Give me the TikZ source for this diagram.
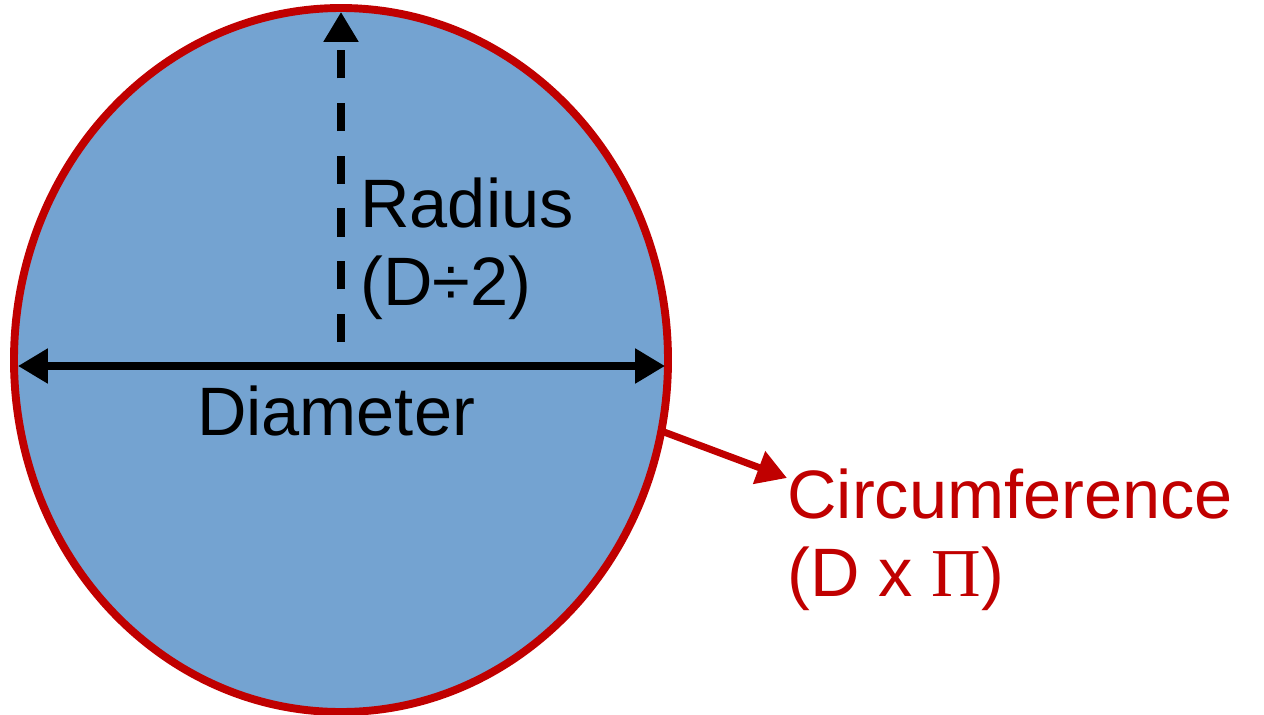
\documentclass[tikz,border=0pt]{standalone}
\usepackage{fontspec}
\setmainfont{Liberation Sans}
\newfontfamily\pifont{Liberation Serif}
\usetikzlibrary{arrows.meta}
\definecolor{discblue}{HTML}{74A3D1}
\definecolor{rimred}{HTML}{C00000}

\begin{document}
\begin{tikzpicture}[x=0.02cm, y=-0.02cm,
    bigtext/.style={font=\fontsize{39}{44}\selectfont, inner sep=0pt, align=left},
    measure/.style={line width=4pt, -{Triangle[length=17pt, width=19pt]}}]
  \useasboundingbox (0,0) rectangle (1264,714);

  % --- the disc ---
  \draw[fill=discblue, draw=rimred, line width=4.5pt] (341,360) ellipse[x radius=327, y radius=352];

  % --- reference points on the rim ---
  \coordinate (centre) at (341,342);
  \coordinate (top)    at (341,12);
  \coordinate (west)   at (18,366);
  \coordinate (east)   at (665,366);
  \coordinate (rim)    at (664,432);
  \coordinate (tip)    at (787,478);

  % --- radius and diameter ---
  \draw[measure, dash pattern=on 16pt off 14pt] (centre) -- (top);
  \draw[measure, {Triangle[length=17pt, width=19pt]}-{Triangle[length=17pt, width=19pt]}] (west) -- (east);

  % --- labels (anchored on the last baseline) ---
  \node[bigtext, anchor=base west] (radius) at (360,305) {Radius\\(D÷2)};
  \node[bigtext, anchor=base] (diameter) at (336,435) {Diameter};
  \node[bigtext, anchor=base west, text=rimred] (circ) at (787,596) {Circumference\\(D x {\pifont Π})};

  % --- circumference pointer ---
  \draw[measure, draw=rimred, fill=rimred] (rim) -- (tip);
\end{tikzpicture}
\end{document}
